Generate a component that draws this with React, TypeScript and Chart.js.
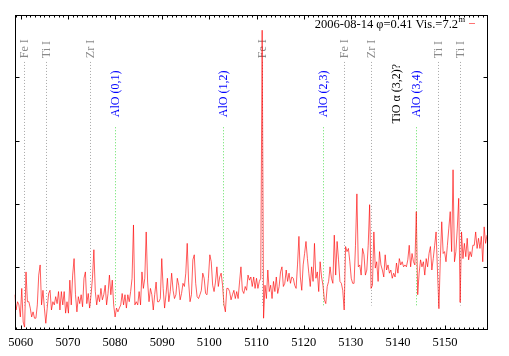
import React, { useEffect, useRef } from "react";
import { Chart, registerables } from "chart.js";

Chart.register(...registerables);

// Axis ranges (wavelength in Å, relative flux)
const X_MIN = 5058.66;
const X_MAX = 5158.9;
const Y_MIN = 0.03;
const Y_MAX = 4.98;
const STEP = 0.3;
const yTickValues = [1, 2, 3, 4];

// Spectrum in four segments (uniform 0.3 Å sampling)
const segAStart = 5058.7;
const segA = [
  0.57, 0.33, 0.46, 0.41, 0.22, 0.67, 0.14, 0.06, 0.93, 0.46,
  0.46, 0.36, 0.22, 0.30, 0.20, 0.20, 0.41, 0.88, 1.04, 0.41,
  0.64, 0.36, 0.12, 0.36, 0.59, 0.64, 0.33, 0.46, 0.41, 0.54,
  0.43, 0.62, 0.33, 0.62, 0.41, 0.62, 0.28, 0.46, 0.28, 0.80,
  0.41, 0.88, 1.14, 0.57, 0.30, 0.54, 0.43, 0.57, 0.38, 0.83,
  0.93, 0.43, 0.59, 0.36, 0.57, 0.83, 1.28, 0.62, 0.41, 0.57,
  0.46, 0.67, 0.49, 0.57, 0.72, 0.41, 0.59, 0.88, 0.57, 0.80,
  0.41, 0.22, 0.36, 0.30, 0.36, 0.41, 0.59, 0.41, 0.57, 0.36,
  0.57, 0.46, 0.62, 0.83, 1.67,
];
const segBStart = 5084.2;
const segB = [
  0.41, 0.46, 0.41, 0.62, 0.41, 0.93, 0.67, 0.83, 1.56, 0.77,
  0.46, 0.67, 0.57, 0.33, 0.57, 0.77, 0.46, 0.46, 0.51, 1.14,
  0.67, 0.36, 0.57, 0.83, 0.46, 0.62, 0.91, 0.64, 0.51, 0.57,
  0.83, 0.72, 0.49, 0.59, 0.75, 0.70, 0.91, 1.38, 0.77, 0.46,
  0.57, 1.12, 1.20, 0.75, 0.54, 0.51, 0.57, 0.64, 0.91, 0.83,
  0.59, 0.57, 0.83, 1.20, 1.09, 0.72, 0.62, 0.77, 1.01, 0.70,
  0.85, 0.91, 0.72, 0.41, 0.30, 0.67, 0.67, 0.62, 0.49, 0.57,
  0.64, 0.51, 0.62, 0.51, 0.77, 1.01, 0.64, 0.59, 0.70, 0.64,
  0.88, 0.80, 0.85, 0.70,
];
const segCStart = 5109.4;
const segC = [
  0.85, 0.67, 0.83, 0.67, 0.78, 0.83, 4.74, 0.20, 0.72, 0.51,
  0.96, 0.62, 0.72, 0.51, 0.78, 0.62, 0.85, 0.59, 0.70, 0.93,
  1.01, 0.70, 0.75, 0.96, 0.78, 0.91, 0.75, 0.85, 0.83, 0.72,
  0.67, 1.04, 1.49, 0.85, 0.64, 1.04, 1.22, 1.41, 1.14, 0.91,
  0.70, 1.01, 0.78, 1.38, 0.83, 0.93, 0.62, 1.09, 0.85, 0.72,
  0.49, 0.43, 0.70, 0.78, 1.01, 0.83, 0.75, 1.51, 0.88, 1.41,
  1.12, 0.78, 0.75, 0.64, 0.33, 1.33, 1.25, 1.30, 1.09, 0.83,
  0.75, 0.75, 1.35, 2.16, 1.01, 1.04, 0.88, 1.30, 1.20, 0.88,
  0.96, 1.35, 1.99,
];
const segDStart = 5134.3;
const segD = [
  0.67, 0.72, 1.56, 0.99, 1.09, 0.78, 1.25, 1.04, 0.96, 0.85,
  1.20, 0.96, 1.04, 0.91, 0.96, 0.83, 0.91, 0.85, 1.07, 0.91,
  1.14, 1.04, 1.09, 1.01, 1.04, 1.01, 1.12, 1.35, 1.01, 1.22,
  1.09, 1.04, 1.88, 0.57, 0.91, 1.12, 1.01, 1.09, 0.88, 1.14,
  1.01, 1.22, 1.33, 0.96, 1.14, 1.35, 1.56, 0.93, 0.35, 1.14,
  1.72, 1.22, 1.25, 1.09, 1.35, 1.62, 1.88, 1.25, 2.54, 1.09,
  1.25, 1.62, 2.09, 0.45, 1.56, 1.14, 1.38, 1.17, 1.46, 1.12,
  1.25, 1.17, 1.35, 1.35, 1.56, 1.30, 1.46, 1.30, 1.49, 1.09,
  1.64, 1.38, 1.51,
];

// Line identifications
const atomWaves = [5060.78, 5065.37, 5074.7, 5111.2, 5128.6, 5134.35, 5148.5, 5153.25];
const atomLabels = ["Fe I", "Ti I", "Zr I", "Fe I", "Fe I", "Zr I", "Ti I", "Ti I"];
const aloWaves = [5080.0, 5102.9, 5124.2, 5143.9];
const aloLabels = ["AlO (0,1)", "AlO (1,2)", "AlO (2,3)", "AlO (3,4)"];
const tioWaves = [5139.75];
const tioLabels = ["TiO α (3,2)?"];

// label / marker levels (in flux units)
const ATOM_LABEL_Y = 4.30;
const ATOM_LINE_TOP = 4.24;
const ALO_LABEL_Y = 3.37;
const ALO_LINE_TOP = 3.21;
const TIO_LABEL_Y = 3.27;
const MARK_LINE_END = 0.4;

const legendText = "2006-08-14 φ=0.41 Vis.=7.2";
const legendSup = "m";

const SERIF = '"Liberation Serif", "Times New Roman", serif';

function buildPoints() {
  const segs: [number, number[]][] = [
    [segAStart, segA],
    [segBStart, segB],
    [segCStart, segC],
    [segDStart, segD],
  ];
  const pts: { x: number; y: number }[] = [];
  segs.forEach(([start, vals]) => {
    vals.forEach((v, i) => pts.push({ x: +(start + i * STEP).toFixed(2), y: v }));
  });
  return pts;
}

const decoPlugin = {
  id: "deco",
  beforeDatasetsDraw(chart: any) {
    const { ctx, scales } = chart;
    const x = scales.x;
    const y = scales.y;
    ctx.save();
    ctx.lineWidth = 1;
    ctx.setLineDash([1, 2]);
    const vline = (wl: number, top: number, color: string) => {
      const px = Math.round(x.getPixelForValue(wl)) + 0.5;
      ctx.strokeStyle = color;
      ctx.beginPath();
      ctx.moveTo(px, y.getPixelForValue(top));
      ctx.lineTo(px, y.getPixelForValue(MARK_LINE_END));
      ctx.stroke();
    };
    atomWaves.forEach((w) => vline(w, ATOM_LINE_TOP, "#a8a8a8"));
    aloWaves.forEach((w) => vline(w, ALO_LINE_TOP, "#5fe05f"));
    ctx.setLineDash([]);

    const label = (wl: number, yv: number, text: string, color: string) => {
      ctx.save();
      ctx.translate(x.getPixelForValue(wl) + 0.5, y.getPixelForValue(yv));
      ctx.rotate(-Math.PI / 2);
      ctx.fillStyle = color;
      ctx.font = `12px ${SERIF}`;
      ctx.textAlign = "left";
      ctx.textBaseline = "middle";
      ctx.fillText(text, 0, 0);
      ctx.restore();
    };
    atomWaves.forEach((w, i) => label(w, ATOM_LABEL_Y, atomLabels[i], "#8a8a8a"));
    aloWaves.forEach((w, i) => label(w, ALO_LABEL_Y, aloLabels[i], "#0000ff"));
    tioWaves.forEach((w, i) => label(w, TIO_LABEL_Y, tioLabels[i], "#000000"));
    ctx.restore();
  },
  afterDatasetsDraw(chart: any) {
    const { ctx, chartArea, scales } = chart;
    const x = scales.x;
    const y = scales.y;
    const L = Math.round(chartArea.left) + 0.5;
    const R = Math.round(chartArea.right) + 0.5;
    const T = Math.round(chartArea.top) + 0.5;
    const B = Math.round(chartArea.bottom) + 0.5;
    ctx.save();
    ctx.strokeStyle = "#000";
    ctx.lineWidth = 1;
    ctx.beginPath();
    for (let w = Math.ceil(X_MIN); w <= X_MAX; w += 1) {
      const px = Math.round(x.getPixelForValue(w)) + 0.5;
      const len = w % 10 === 0 ? 4 : 2;
      ctx.moveTo(px, B);
      ctx.lineTo(px, B - len);
      ctx.moveTo(px, T);
      ctx.lineTo(px, T + len);
    }
    yTickValues.forEach((v) => {
      const py = Math.round(y.getPixelForValue(v)) + 0.5;
      ctx.moveTo(L, py);
      ctx.lineTo(L + 4, py);
      ctx.moveTo(R, py);
      ctx.lineTo(R - 4, py);
    });
    ctx.stroke();
    ctx.strokeRect(L, T, R - L, B - T);
    ctx.restore();
  },
  afterDraw(chart: any) {
    const { ctx } = chart;
    ctx.save();
    ctx.fillStyle = "#000";
    ctx.font = `12.5px ${SERIF}`;
    ctx.textAlign = "right";
    ctx.textBaseline = "alphabetic";
    const endX = 458;
    ctx.fillText(legendText, endX, 28);
    ctx.textAlign = "left";
    ctx.font = `8.5px ${SERIF}`;
    ctx.fillText(legendSup, endX + 0.5, 22);
    ctx.strokeStyle = "rgba(255,0,0,0.55)";
    ctx.lineWidth = 1;
    ctx.beginPath();
    ctx.moveTo(469, 23.5);
    ctx.lineTo(475, 23.5);
    ctx.stroke();
    ctx.restore();
  },
};

export default function App() {
  const ref = useRef<HTMLCanvasElement | null>(null);

  useEffect(() => {
    if (!ref.current) return;
    const chart = new Chart(ref.current, {
      type: "line",
      data: {
        datasets: [
          {
            data: buildPoints(),
            borderColor: "rgba(255,0,0,0.85)",
            borderWidth: 0.75,
            pointRadius: 0,
            tension: 0,
            fill: false,
          },
        ],
      },
      options: {
        responsive: false,
        animation: false,
        devicePixelRatio: 1,
        layout: { padding: { left: 14.5, right: 22, top: 15, bottom: 0 } },
        plugins: {
          legend: { display: false },
          tooltip: { enabled: false },
        },
        scales: {
          x: {
            type: "linear",
            min: X_MIN,
            max: X_MAX,
            grid: { display: false, drawTicks: false },
            border: { display: false },
            ticks: {
              stepSize: 10,
              includeBounds: false,
              padding: 6,
              color: "#000",
              maxRotation: 0,
              autoSkip: false,
              font: { family: SERIF, size: 12.5 },
              callback: (v: any) => String(v),
            },
            afterFit: (s: any) => {
              s.height = 27;
            },
          },
          y: {
            type: "linear",
            display: false,
            min: Y_MIN,
            max: Y_MAX,
          },
        },
      } as any,
      plugins: [decoPlugin],
    });
    return () => chart.destroy();
  }, []);

  return (
    <div style={{ position: "absolute", left: 0, top: 0, width: 509, height: 356, background: "#fff" }}>
      <canvas ref={ref} width={509} height={356} style={{ display: "block" }} />
    </div>
  );
}
